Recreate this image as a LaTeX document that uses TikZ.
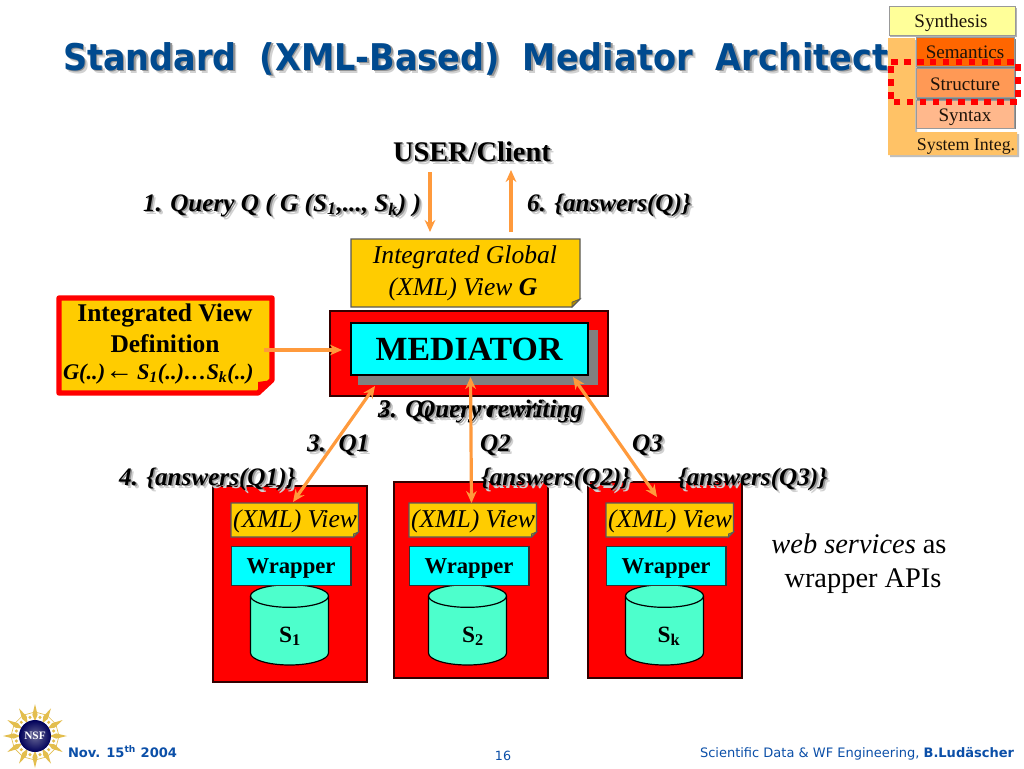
\documentclass[tikz,border=0pt]{standalone}
\usepackage{fontspec}
\setmainfont{Liberation Serif}
\newfontfamily\dejafont{DejaVu Sans}
\newfontfamily\titlefont[FakeStretch=0.91,WordSpace=2]{DejaVu Sans}
\usetikzlibrary{arrows.meta}
\definecolor{noteyel}{HTML}{FFCC00}
\definecolor{medred}{HTML}{FF0000}
\definecolor{medcyan}{HTML}{00FFFF}
\definecolor{cylgreen}{HTML}{4DFFCC}
\definecolor{arrorange}{HTML}{FF9A3C}
\definecolor{titleblue}{HTML}{004A8F}
\definecolor{footblue}{HTML}{0B4FA8}
\definecolor{laysynth}{HTML}{FFFF99}
\definecolor{laysem}{HTML}{FF6600}
\definecolor{laystr}{HTML}{FF9955}
\definecolor{laysyx}{HTML}{FFB88C}
\definecolor{laysys}{HTML}{FFC266}
\definecolor{nsfgold}{HTML}{E3BE4E}
\newcommand\fs[1]{\fontsize{#1}{#1}\selectfont}
\tikzset{
  txt/.style={inner sep=0pt,outer sep=0pt,anchor=base west,align=center},
  ctxt/.style={txt,anchor=base},
  bi/.style={font=\fs{18.9}\bfseries\itshape},
  flow/.style={draw=arrorange,line width=2.4pt,-{Stealth[length=9pt,width=8pt]}},
  flowboth/.style={draw=arrorange,line width=2.4pt,{Stealth[length=9pt,width=8pt]}-{Stealth[length=9pt,width=8pt]}},
  redbox/.style={fill=medred,draw=black!80!red,line width=0.9pt},
  wrapbox/.style={fill=medcyan,draw=black!80,line width=0.9pt},
  notefill/.style={fill=noteyel,draw=black!65,line width=0.9pt},
  fold/.style={fill=noteyel!70!black,draw=black!65,line width=0.6pt},
  cyl/.style={fill=cylgreen,draw=black,line width=0.9pt},
  layer/.style={draw=black!40,line width=0.7pt},
  laytext/.style={ctxt,text=black!85!brown},
  dots/.style={draw=medred,line width=4.5pt,dash pattern=on 5pt off 4.7pt}
}
% shadowed text: [style]{name}{x}{y}{text}
\newcommand\sht[5][]{%
  \node[txt,#1,text=black!18] at (#3+3.2,#4+3.2) {#5};
  \node[txt,#1,text=black!42] at (#3+1.7,#4+1.7) {#5};
  \node[txt,#1] (#2) at (#3,#4) {#5};}
% note with turned corner: {name}{x1}{y1}{x2}{y2}{fold}
\newcommand\notebox[6]{%
  \draw[notefill] (#2,#3) -- (#4,#3) -- (#4,#5-#6) -- (#4-#6,#5) -- (#2,#5) -- cycle;
  \draw[fold] (#4,#5-#6) -- (#4-#6,#5-#6*0.6) -- (#4-#6,#5) -- cycle;
  \coordinate (#1) at ({(#2+#4)/2},{(#3+#5)/2});}
% source column: {id}{box x}{box y}{box h}{inner x}{label x}{S}{sub}
\newcommand\source[7]{%
  \draw[redbox] (#2,#3) rectangle (#2+154,#3+#4);
  \notebox{xml#1}{#5}{503}{#5+127.5}{537}{5}
  \node[ctxt,font=\fs{19.2}\itshape] (xmlt#1) at (#5+64,527) {(XML) View};
  \draw[cyl] (#5+19.5,596) arc[start angle=180,end angle=0,x radius=29.25pt,y radius=8.5pt]
     -- (#5+97.5,653) arc[start angle=0,end angle=-180,x radius=29.25pt,y radius=9pt] -- cycle;
  \draw[black,line width=0.9pt] (#5+19.5,596) arc[start angle=180,end angle=360,x radius=29.25pt,y radius=8.5pt];
  \node[wrapbox,minimum width=89.5pt,minimum height=29pt,inner sep=0pt,anchor=north west] (wrap#1) at (#5,546) {};
  \node[ctxt,font=\fs{17}\bfseries] at (#5+60,573) {Wrapper};
  \node[ctxt,font=\fs{17.5}\bfseries] (src#1) at (#6,642) {S\textsubscript{#7}};}
\begin{document}
\begin{tikzpicture}[x=0.75pt,y=-0.75pt]
\useasboundingbox (0,0) rectangle (1024,768);
\fill[white] (0,0) rectangle (1024,768);

% title
\sht[font=\titlefont\fs{27.6}\bfseries,text=titleblue]{title}{63}{70}{Standard (XML-Based) Mediator Architect}

% layer pyramid
\fill[black!30] (890,8) rectangle (1017,37);
\fill[black!25] (890,40) -- (917,40) -- (917,134) -- (1019,134) -- (1019,157) -- (890,157) -- cycle;
\fill[laysys] (888,38) -- (915,38) -- (915,132) -- (1017,132) -- (1017,155) -- (888,155) -- cycle;
\filldraw[layer,fill=laysynth] (889,6) rectangle (1015,35);
\fill[black!50] (917,39) rectangle (1016,129);
\filldraw[layer,fill=laysem] (916,37) rectangle (1014,66);
\filldraw[layer,fill=laystr] (916,68) rectangle (1014,97);
\filldraw[layer,fill=laysyx] (916,100) rectangle (1014,128);
\node[laytext,font=\fs{14.3}] (lsyn) at (951,27) {Synthesis};
\node[laytext,font=\fs{14.3}] (lsem) at (965,58) {Semantics};
\node[laytext,font=\fs{14.3}] (lstr) at (965,90) {Structure};
\node[laytext,font=\fs{14.3}] (lsyx) at (965,121) {Syntax};
\node[laytext,font=\fs{13.4}] (lsys) at (966,150) {System Integ.};
\draw[dots] (891,62) -- (1018,62) -- (1018,102) -- (891,102) -- cycle;

% user
\sht[font=\fs{21.3}\bfseries]{user}{393}{161}{USER/Client}
\coordinate (qin) at (430,172); \coordinate (qout) at (430,232);
\coordinate (ain) at (511,232); \coordinate (aout) at (511,170);
\draw[flow] (qin) -- (qout);
\draw[flow] (ain) -- (aout);
\sht[bi]{qlabel}{143}{211}{1. Query Q ( G (S\textsubscript{1},..., S\textsubscript{k}) )}
\sht[bi]{alabel}{527}{211}{6. \{answers(Q)\}}

% global view
\notebox{gview}{351}{239}{580}{307}{8}
\node[ctxt,font=\fs{19.2}\itshape] (gv1) at (465,263) {Integrated Global};
\node[ctxt,font=\fs{19.2}\itshape] (gv2) at (463,295) {(XML) View {\bfseries G}};

% mediator
\draw[redbox] (330,311) rectangle (608,396);
\fill[black!50] (358,330) rectangle (598,385);
\node[fill=medcyan,draw=black,line width=1.9pt,minimum width=178pt,minimum height=39pt,inner sep=0pt] (med) at (469.5,349) {};
\node[ctxt,font=\fs{25.4}\bfseries] (medt) at (469,360) {MEDIATOR};

% integrated view definition
\draw[fill=noteyel,draw=medred,line width=4pt,line join=round]
  (59,298) -- (272,298) -- (272,380) -- (258,393) -- (59,393) -- cycle;
\fill[medred] (272,380) -- (258,382) -- (258,393) -- cycle;
\node[ctxt,font=\fs{19.1}\bfseries] (ivd1) at (165,321) {Integrated View};
\node[ctxt,font=\fs{19.1}\bfseries] (ivd2) at (165,352) {Definition};
\node[txt,font=\fs{16.8}\bfseries\itshape] (ivd3) at (63,379) {G(..){\fs{21}←}\,S\textsubscript{1}(..)…S\textsubscript{k}(..)};
\coordinate (ivdout) at (264,350);
\coordinate (medin) at (342,350);
\draw[flow] (ivdout) -- (medin);

% query rewriting (two overlaid captions)
\sht[bi]{rw1}{378}{417}{2. Query rewriting}
\sht[bi]{rw2}{378}{417}{3.\hspace{9pt} Query rewriting}

% sources
\source{a}{213}{486}{196}{231}{290}{1}
\source{b}{394}{482}{196}{409}{473}{2}
\source{c}{588}{482}{196}{606}{669}{k}

% query labels
\sht[bi]{q1}{307}{451}{3.\ \ Q1}
\sht[bi]{q2}{480}{451}{Q2}
\sht[bi]{q3}{632}{451}{Q3}
\sht[bi]{a1}{119}{485}{4. \{answers(Q1)\}}
\sht[bi]{a2}{481}{485}{\{answers(Q2)\}}
\sht[bi]{a3}{678}{485}{\{answers(Q3)\}}

% double arrows
\coordinate (m1) at (375,386); \coordinate (s1) at (293,502);
\coordinate (m2) at (470.5,377); \coordinate (s2) at (471.5,503);
\coordinate (m3) at (573,377); \coordinate (s3) at (657,497);
\draw[flowboth] (m1) -- (s1);
\draw[flowboth] (m2) -- (s2);
\draw[flowboth] (m3) -- (s3);

% note
\node[ctxt,font=\fs{21.3}] (ws1) at (859,553) {{\itshape web services} as};
\node[ctxt,font=\fs{21.3}] (ws2) at (863,587) {wrapper APIs};

% NSF logo
\begin{scope}[shift={(35,736)}]
  \foreach \a in {0,30,...,330}{
    \fill[nsfgold] (\a:11pt) -- (\a+7:16pt) -- (\a:24pt) -- (\a-7:16pt) -- cycle;
    \draw[nsfgold,line width=0.5pt] (\a:18pt) -- (\a+30:18pt);
    \fill[nsfgold] (\a+15:14.5pt) circle[radius=1.3pt];
  }
  \shade[inner color=blue!30!black!60!white,outer color=blue!35!black] (0,0) circle[radius=12pt];
  \node[font=\fs{8.5}\bfseries,text=white,inner sep=0pt] (nsf) at (0,0) {NSF};
\end{scope}

% footer
\node[txt,font=\dejafont\fs{9.8}\bfseries,text=footblue] (date) at (68,757) {Nov. 15\textsuperscript{th} 2004};
\node[ctxt,font=\dejafont\fs{9.5},text=footblue] (page) at (503,760) {16};
\node[txt,anchor=base east,font=\dejafont\fs{9.75},text=footblue] (foot) at (1014,757) {Scientific Data \& WF Engineering, {\bfseries B.Ludäscher}};
\end{tikzpicture}
\end{document}
